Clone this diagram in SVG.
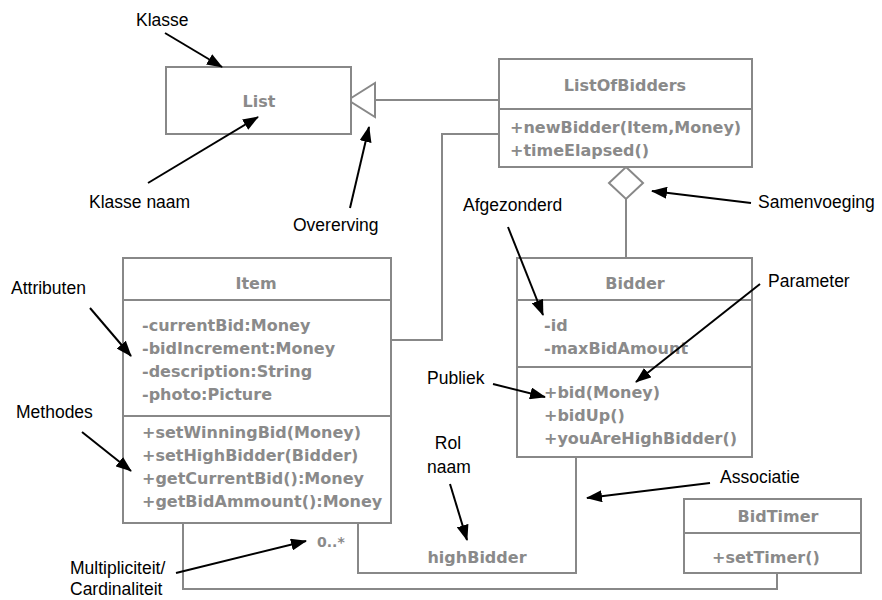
<svg xmlns="http://www.w3.org/2000/svg" width="882" height="600" viewBox="0 0 882 600">
<defs>
<marker id="ah" viewBox="0 0 16 12" refX="15" refY="6" markerWidth="16" markerHeight="12" markerUnits="userSpaceOnUse" orient="auto">
<path d="M0,0 L16,6 L0,12 z" fill="#000"/>
</marker>
</defs>
<style>
.box{fill:#fff;stroke:#888;stroke-width:2}
.ln{fill:none;stroke:#888;stroke-width:2}
.ct{font-family:"DejaVu Sans",sans-serif;font-weight:bold;font-size:16px;fill:#8a8a8a}
.cm{text-anchor:middle}
.an{font-family:"Liberation Sans",Arial,sans-serif;font-size:17.5px;fill:#000}
.ar{stroke:#000;stroke-width:2;fill:none;marker-end:url(#ah)}
</style>
<rect width="882" height="600" fill="#fff"/>

<g id="connectors">
<polyline class="ln" points="375,100 499,100"/>
<polygon points="348,100 375,83 375,117" fill="#fff" stroke="#888" stroke-width="2"/>
<polyline class="ln" points="499,134 442,134 442,340 390,340"/>
<line class="ln" x1="626" y1="199" x2="626" y2="258"/>
<polygon points="626,167 643,183 626,199 609,183" fill="#fff" stroke="#888" stroke-width="2"/>
<polyline class="ln" points="358,523 358,573 576,573 576,457"/>
<polyline class="ln" points="183,523 183,589 777,589 777,573"/>
<text class="ct" x="317" y="547" style="font-size:14px">0..*</text>
<text class="ct cm" x="477" y="563">highBidder</text>
</g>

<g id="List">
<rect class="box" x="166" y="67" width="185" height="67"/>
<text class="ct cm" x="259" y="107">List</text>
</g>

<g id="ListOfBidders">
<rect class="box" x="499" y="59" width="253" height="108"/>
<line class="ln" x1="499" y1="109" x2="752" y2="109"/>
<text class="ct cm" x="625" y="91">ListOfBidders</text>
<text class="ct" x="510" y="133">+newBidder(Item,Money)</text>
<text class="ct" x="510" y="156">+timeElapsed()</text>
</g>

<g id="Item">
<rect class="box" x="123" y="258" width="268" height="265"/>
<line class="ln" x1="123" y1="300" x2="391" y2="300"/>
<line class="ln" x1="123" y1="416" x2="391" y2="416"/>
<text class="ct cm" x="256" y="289">Item</text>
<text class="ct" x="142" y="331">-currentBid:Money</text>
<text class="ct" x="142" y="354">-bidIncrement:Money</text>
<text class="ct" x="142" y="377">-description:String</text>
<text class="ct" x="142" y="400">-photo:Picture</text>
<text class="ct" x="142" y="438">+setWinningBid(Money)</text>
<text class="ct" x="142" y="461">+setHighBidder(Bidder)</text>
<text class="ct" x="142" y="484">+getCurrentBid():Money</text>
<text class="ct" x="142" y="507">+getBidAmmount():Money</text>
</g>

<g id="Bidder">
<rect class="box" x="517" y="258" width="235" height="199"/>
<line class="ln" x1="517" y1="300" x2="752" y2="300"/>
<line class="ln" x1="517" y1="367" x2="752" y2="367"/>
<text class="ct cm" x="635" y="289">Bidder</text>
<text class="ct" x="544" y="331">-id</text>
<text class="ct" x="544" y="354">-maxBidAmount</text>
<text class="ct" x="544" y="398">+bid(Money)</text>
<text class="ct" x="544" y="421">+bidUp()</text>
<text class="ct" x="544" y="444">+youAreHighBidder()</text>
</g>

<g id="BidTimer">
<rect class="box" x="684" y="499" width="177" height="74"/>
<line class="ln" x1="684" y1="533" x2="861" y2="533"/>
<text class="ct cm" x="778" y="522">BidTimer</text>
<text class="ct" x="712" y="563">+setTimer()</text>
</g>

<g id="annotations">
<text class="an" x="136" y="26">Klasse</text>
<line class="ar" x1="165" y1="33" x2="222" y2="67"/>
<text class="an" x="89" y="208">Klasse naam</text>
<line class="ar" x1="148" y1="183" x2="258" y2="117"/>
<text class="an" x="293" y="231">Overerving</text>
<line class="ar" x1="350" y1="208" x2="369" y2="127"/>
<text class="an" x="758" y="208">Samenvoeging</text>
<line class="ar" x1="751" y1="203" x2="652" y2="191"/>
<text class="an" x="463" y="211">Afgezonderd</text>
<line class="ar" x1="508" y1="227" x2="543" y2="315"/>
<text class="an" x="768" y="287">Parameter</text>
<line class="ar" x1="760" y1="284" x2="636" y2="382"/>
<text class="an" x="427" y="384">Publiek</text>
<line class="ar" x1="493" y1="384" x2="545" y2="397"/>
<text class="an" x="448" y="449" text-anchor="middle">Rol</text>
<text class="an" x="449" y="473" text-anchor="middle">naam</text>
<line class="ar" x1="450" y1="484" x2="467" y2="540"/>
<text class="an" x="720" y="483">Associatie</text>
<line class="ar" x1="710" y1="483" x2="587" y2="498"/>
<text class="an" x="11" y="294">Attributen</text>
<line class="ar" x1="90" y1="308" x2="131" y2="356"/>
<text class="an" x="16" y="418">Methodes</text>
<line class="ar" x1="82" y1="432" x2="131" y2="471"/>
<text class="an" x="70" y="574">Multipliciteit/</text>
<text class="an" x="70" y="595">Cardinaliteit</text>
<line class="ar" x1="176" y1="573" x2="306" y2="541"/>
</g>
</svg>
